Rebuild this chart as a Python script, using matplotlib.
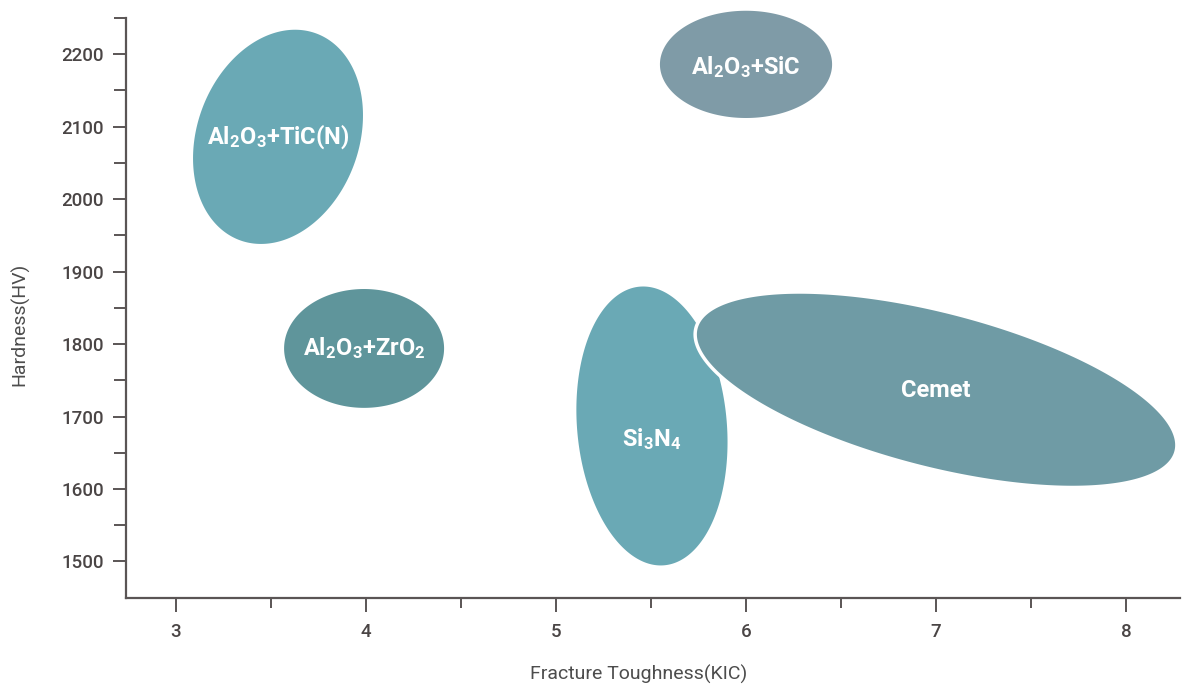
import numpy as np
import matplotlib.pyplot as plt
from matplotlib.patches import Polygon

plt.rcParams['font.family'] = ['Roboto', 'DejaVu Sans']
plt.rcParams['mathtext.default'] = 'regular'

# Material regions: center (KIC, HV), half-axes in KIC units / HV units, tilt (deg, display space)
names = ['Al$_2$O$_3$+TiC(N)', 'Al$_2$O$_3$+ZrO$_2$', 'Al$_2$O$_3$+SiC', 'Si$_3$N$_4$', 'Cemet']
cx = [3.537, 3.99, 6.0, 5.505, 7.0]
cy = [2086, 1794, 2186, 1687, 1737]
half_w = [0.426, 0.421, 0.453, 0.394, 1.305]   # KIC units along the ellipse's own x
half_h = [152, 82, 74, 193, 108]              # HV units along the ellipse's own y
tilt = [-20, 0, 0, 5, -14.5]
colors = ['#6aa9b5', '#5f959b', '#7f9ba7', '#6aa9b5', '#6f9ba5']
label_dy = [0, 0, -3, -18, -1]

xticks = [3, 4, 5, 6, 7, 8]
yticks = [1500, 1600, 1700, 1800, 1900, 2000, 2100, 2200]

# pixel scale of the axes (px per unit) used to keep shapes round on screen
SX, SY = 190.0, 0.7286

fig = plt.figure(figsize=(11.82, 6.91), dpi=100)
ax = fig.add_axes([126 / 1182, 1 - 598 / 691, 1054 / 1182, 580 / 691])
ax.set_xlim(2.737, 8.284)
ax.set_ylim(1449.6, 2245.7)

t = np.linspace(0, 2 * np.pi, 400)
for i in range(len(names)):
    a = half_w[i] * SX
    b = half_h[i] * SY
    th = np.radians(tilt[i])
    u = a * np.cos(t)
    v = b * np.sin(t)
    px = u * np.cos(th) - v * np.sin(th)
    py = u * np.sin(th) + v * np.cos(th)
    pts = np.column_stack([cx[i] + px / SX, cy[i] + py / SY])
    edge = 'white' if names[i] == 'Cemet' else 'none'
    ax.add_patch(Polygon(pts, closed=True, facecolor=colors[i], edgecolor=edge,
                         linewidth=2.5, clip_on=False, zorder=2 + i))
    ax.text(cx[i], cy[i] + label_dy[i], names[i], color='white', fontsize=17,
            fontweight='bold', ha='center', va='center', zorder=10)

for s in ['top', 'right']:
    ax.spines[s].set_visible(False)
for s in ['left', 'bottom']:
    ax.spines[s].set_color('#5a5555')
    ax.spines[s].set_linewidth(1.6)

ax.set_xticks(xticks)
ax.set_yticks(yticks)
ax.set_xticks(np.arange(3.5, 8.5, 1.0), minor=True)
ax.set_yticks(np.arange(1550, 2300, 100), minor=True)
ax.tick_params(axis='both', which='major', colors='#5a5555', labelcolor='#4a4545',
               labelsize=13.5, width=1.4)
ax.tick_params(axis='x', which='major', length=10.3, pad=8)
ax.tick_params(axis='x', which='minor', length=7.4, width=1.4, color='#5a5555')
ax.tick_params(axis='y', which='major', length=9.6, pad=6.5)
ax.tick_params(axis='y', which='minor', length=8.4, width=1.4, color='#5a5555')
for lbl in ax.get_xticklabels() + ax.get_yticklabels():
    lbl.set_fontweight('medium')

ax.set_xlabel('Fracture Toughness(KIC)', fontsize=14, color='#4d4d4d')
ax.xaxis.set_label_coords(0.486, -0.115)
ax.set_ylabel('Hardness(HV)', fontsize=14, color='#4d4d4d')
ax.yaxis.set_label_coords(-0.092, 0.471)

fig.savefig('out.png', dpi=100)
